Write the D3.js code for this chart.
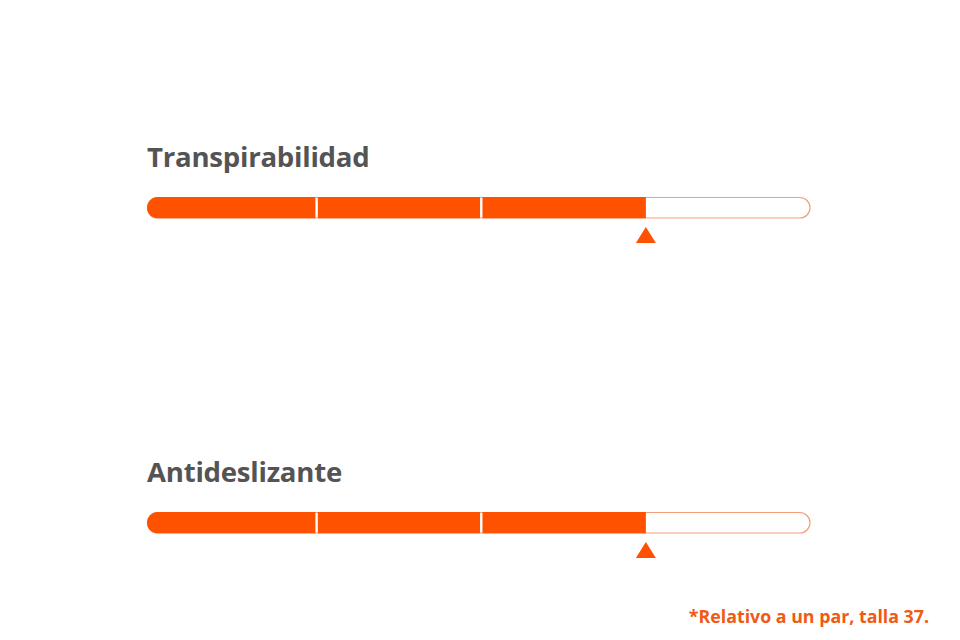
<!DOCTYPE html>
<html><head><meta charset="utf-8">
<script src="https://cdn.jsdelivr.net/npm/d3@7"></script>
<style>html,body{margin:0;padding:0;background:#fff;}svg{display:block;}</style>
</head><body>
<svg id="c" width="960" height="640"></svg>
<script>
const categories = ["Transpirabilidad", "Antideslizante"];
const values = [3, 3];
const maxValue = 4;
const footnote = "*Relativo a un par, talla 37.";

const orange = "#ff5200";
const svg = d3.select("#c");
const x = d3.scaleLinear().domain([0, maxValue]).range([152, 810.5]);
const barTop = d => 197 + categories.indexOf(d) * 315;
const barH = 21.5, r = 10.75, capLeft = 147;

const g = svg.selectAll("g.row").data(categories.map((c, i) => ({c, v: values[i], i})))
  .enter().append("g").attr("class", "row");

g.append("text")
  .attr("x", capLeft).attr("y", d => barTop(d.c) - 30)
  .attr("font-family", "'Open Sans', sans-serif").attr("font-weight", 700)
  .attr("font-size", 27.6).attr("letter-spacing", -0.25).attr("fill", "#545454")
  .text(d => d.c);

// track outline
g.append("rect")
  .attr("x", capLeft + 0.5).attr("y", d => barTop(d.c) + 0.5)
  .attr("width", x(maxValue) - capLeft - 1).attr("height", barH - 1)
  .attr("rx", r - 0.5).attr("fill", "#fff")
  .attr("stroke", "#f2a07c").attr("stroke-width", 1.2);

const defs = svg.append("defs");
categories.forEach((c, i) => {
  defs.append("clipPath").attr("id", "clip" + i).append("rect")
    .attr("x", capLeft).attr("y", barTop(c)).attr("width", x(maxValue) - capLeft)
    .attr("height", barH).attr("rx", r);
});

g.each(function(d) {
  const sel = d3.select(this).append("g").attr("clip-path", `url(#clip${d.i})`);
  const segs = d3.range(d.v);
  sel.selectAll("rect.seg").data(segs).enter().append("rect")
    .attr("class", "seg")
    .attr("x", k => k === 0 ? capLeft : x(k) + 1.2)
    .attr("y", barTop(d.c))
    .attr("width", k => (x(k + 1) - (k === 0 ? capLeft : x(k) + 1.2)) - (k < d.v - 1 ? 1.2 : 0))
    .attr("height", barH)
    .attr("fill", orange);
  const cx = x(d.v), ty = barTop(d.c) + barH + 8.5;
  d3.select(this).append("path")
    .attr("d", d3.line()([[cx - 10, ty + 16], [cx, ty], [cx + 10, ty + 16]]) + "Z")
    .attr("fill", orange);
});

svg.append("text")
  .attr("x", 929).attr("y", 623).attr("text-anchor", "end")
  .attr("font-family", "'Open Sans', sans-serif").attr("font-weight", 700)
  .attr("font-size", 17.8).attr("fill", "#f05a14")
  .text(footnote);
</script>
</body></html>
